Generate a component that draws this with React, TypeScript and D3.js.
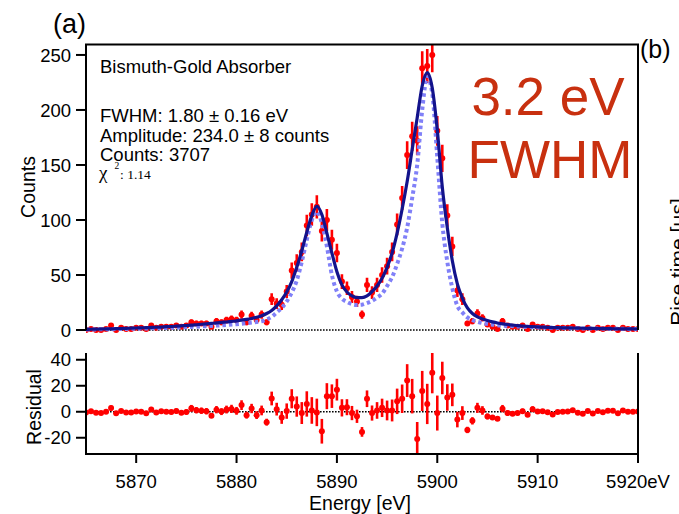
import React from 'react'
import * as d3 from 'd3'

// 0.5 eV bins, 5865 .. 5920 eV
const energy = d3.range(5865, 5920.25, 0.5)

// measured counts per bin
const counts = [
  0, 1, 0, 0, 1, 4, 0, 2, 1, 1,
  2, 2, 1, 4, 2, 3, 3, 3, 4, 3,
  4, 7, 6, 6, 6, 3, 8, 7, 9, 10,
  9, 14, 7, 13, 9, 14, 7, 28, 24, 23,
  35, 54, 61, 71, 95, 105, 112, 90, 100, 82,
  70, 44, 38, 30, 26, 14, 41, 34, 41, 50,
  58, 71, 96, 120, 159, 176, 172, 238, 240, 250,
  181, 156, 104, 76, 36, 28, 6, 8, 15, 11,
  5, 3, 1, 8, 4, 3, 3, 4, 1, 5,
  3, 3, 2, 0, 2, 2, 2, 3, 1, 0,
  2, 0, 2, 1, 2, 2, 0, 2, 1, 1,
  1,
]

// fitted line shape, same bins
const fit = [
  0.6, 0.7, 0.8, 0.9, 1.0, 1.1, 1.2, 1.35, 1.5, 1.65,
  1.8, 2.0, 2.1, 2.3, 2.5, 2.7, 3.0, 3.2, 3.5, 3.8,
  4.1, 4.4, 4.8, 5.2, 5.6, 6.0, 6.4, 6.9, 7.3, 7.8,
  8.3, 8.9, 9.6, 10.5, 11.6, 13.0, 15.0, 17.8, 22.0, 27.5,
  34.5, 44, 57, 72, 89, 104, 112.5, 105, 88, 70,
  53, 41, 34.5, 31, 29.5, 29.5, 31, 35, 40, 47,
  57, 70, 88, 110, 135, 164, 193, 222, 234, 220,
  182, 130, 93, 63, 42, 29, 20, 15, 12, 10,
  8.6, 7.4, 6.4, 5.6, 5.0, 4.5, 4.0, 3.6, 3.3, 3.0,
  2.8, 2.6, 2.4, 2.2, 2.1, 2.0, 1.9, 1.8, 1.7, 1.6,
  1.5, 1.4, 1.35, 1.3, 1.2, 1.15, 1.1, 1.05, 1.0, 0.95,
  0.9,
]

// intrinsic (narrow) line shape, dotted
const modelE = [
  5865, 5866, 5867, 5868, 5869, 5870, 5871, 5872, 5873, 5874,
  5875, 5876, 5877, 5878, 5879, 5880, 5881, 5882, 5882.5, 5883,
  5883.5, 5884, 5884.5, 5885, 5885.5, 5886, 5886.5, 5887, 5887.5, 5888,
  5888.5, 5889, 5889.5, 5890, 5890.5, 5891, 5891.5, 5892, 5892.5, 5893,
  5893.5, 5894, 5894.5, 5895, 5895.5, 5896, 5896.5, 5897, 5897.5, 5898,
  5898.5, 5899, 5899.5, 5900, 5900.5, 5901, 5901.5, 5902, 5902.5, 5903,
  5903.5, 5904, 5904.5, 5905, 5906, 5907, 5908, 5909, 5910, 5911,
  5912, 5913, 5914, 5915, 5916, 5917, 5918, 5919, 5920,
]
const modelV = [
  0.4, 0.55, 0.7, 0.85, 1.0, 1.2, 1.4, 1.6, 1.9, 2.2,
  2.6, 3.0, 3.5, 4.0, 4.6, 5.3, 6.2, 7.3, 8.0, 9.5,
  12, 16, 20, 26, 34, 45, 62, 82, 100, 107.5,
  97, 76, 50, 35, 28.5, 25.5, 23.5, 22.7, 23, 24.5,
  26.5, 29.5, 33, 40, 48, 60, 74, 93, 120, 150,
  200, 230, 215, 157, 97, 62, 38, 22, 16, 11.5,
  9, 7.5, 6.3, 5.5, 4.4, 3.7, 3.2, 2.8, 2.4, 2.1,
  1.9, 1.7, 1.5, 1.4, 1.3, 1.2, 1.1, 1.0, 0.9,
]

const countTicks = [0, 50, 100, 150, 200, 250]
const residTicks = [-20, 0, 20, 40]
const energyTicks = [5870, 5880, 5890, 5900, 5910, 5920]
const infoLines = ['FWHM: 1.80 ± 0.16 eV', 'Amplitude: 234.0 ± 8 counts', 'Counts: 3707']

const font = '"Liberation Sans", Arial, Helvetica, sans-serif'
const serif = '"Liberation Serif", "Times New Roman", serif'
const RED = '#ff0000'
const NAVY = '#13138c'
const LIGHT = '#8080f8'

export default function App() {
  const x = d3.scaleLinear().domain([5865, 5920]).range([86, 638])
  const y = d3.scaleLinear().domain([0, 259.5]).range([330, 44.5])
  const yr = d3.scaleLinear().domain([-32.5, 45.2]).range([454, 353])

  const pts = energy.map((e, i) => ({
    e,
    c: counts[i],
    r: counts[i] - fit[i],
    err: Math.sqrt(counts[i]),
  }))

  const fitPath = d3.line<number>()
    .x((_, i) => x(energy[i]))
    .y(d => y(d))
    .curve(d3.curveMonotoneX)(fit)
  const modelPath = d3.line<number>()
    .x((_, i) => x(modelE[i]))
    .y(d => y(d))
    .curve(d3.curveMonotoneX)(modelV)

  const [x0, x1] = x.range()

  return (
    <svg width={679} height={514} style={{ position: 'absolute', left: 0, top: 0, background: '#fff' }}
      fontFamily={font}>
      <defs>
        <clipPath id="clipTop"><rect x={x0} y={44.5} width={x1 - x0} height={292} /></clipPath>
        <clipPath id="clipRes"><rect x={x0} y={353} width={x1 - x0} height={101} /></clipPath>
      </defs>
      <rect width={679} height={514} fill="#fff" />

      {/* ---- upper panel ---- */}
      <line x1={x0} x2={x1} y1={y(0)} y2={y(0)} stroke="#000" strokeWidth={1.6} strokeDasharray="1.6,1.4" />
      <g clipPath="url(#clipTop)">
        {pts.map((p, i) => (
          <g key={i}>
            <line x1={x(p.e)} x2={x(p.e)} y1={y(p.c - p.err)} y2={y(p.c + p.err)} stroke={RED} strokeWidth={2.6} />
            <circle cx={x(p.e)} cy={y(p.c)} r={3} fill={RED} />
          </g>
        ))}
        <path d={modelPath || ''} fill="none" stroke={LIGHT} strokeWidth={4} strokeDasharray="3.5,3" />
        <path d={fitPath || ''} fill="none" stroke={NAVY} strokeWidth={3.2} />
      </g>
      <path d={`M${x0},${y(0)}V44.5H${x1}V${y(0)}`} fill="none" stroke="#000" strokeWidth={2} />
      {countTicks.map(t => (
        <g key={t}>
          <line x1={x0 - 10} x2={x0} y1={y(t)} y2={y(t)} stroke="#000" strokeWidth={2} />
          <text x={71} y={y(t)} dy="0.36em" textAnchor="end" fontSize={18.5}>{t}</text>
        </g>
      ))}
      <text transform="translate(35,187) rotate(-90)" textAnchor="middle" fontSize={19.5}>Counts</text>

      <text x={100} y={73} fontSize={18.5}>Bismuth-Gold Absorber</text>
      {infoLines.map((s, i) => (
        <text key={s} x={100} y={122 + i * 19.5} fontSize={18.5}>{s}</text>
      ))}
      <text x={99} y={179} fontFamily={serif} fontSize={19}>χ</text>
      <text x={114.5} y={169} fontFamily={serif} fontSize={9.5}>2</text>
      <text x={120} y={178.5} fontFamily={serif} fontSize={13.5}>: 1.14</text>

      <text x={548} y={115} textAnchor="middle" fontSize={53} fill="#c8300f">3.2 eV</text>
      <text x={550} y={178} textAnchor="middle" fontSize={53} fill="#c8300f">FWHM</text>

      <text x={53} y={32.5} fontSize={27}>(a)</text>
      <text x={640} y={58} fontSize={25}>(b)</text>
      {/* axis title of the neighbouring panel, cut by the page edge as in the source */}
      <text transform="translate(685,262) rotate(-90)" textAnchor="middle" fontSize={21}>Rise time [μs]</text>

      {/* ---- residual panel ---- */}
      <line x1={x0} x2={x1} y1={yr(0)} y2={yr(0)} stroke="#000" strokeWidth={1.6} strokeDasharray="1.6,1.4" />
      <g clipPath="url(#clipRes)">
        {pts.map((p, i) => (
          <g key={i}>
            <line x1={x(p.e)} x2={x(p.e)} y1={yr(p.r - p.err)} y2={yr(p.r + p.err)} stroke={RED} strokeWidth={2.6} />
            <circle cx={x(p.e)} cy={yr(p.r)} r={3} fill={RED} />
          </g>
        ))}
      </g>
      <path d={`M${x0},353V454H${x1}V353`} fill="none" stroke="#000" strokeWidth={2} />
      {residTicks.map(t => (
        <g key={t}>
          <line x1={x0 - 10} x2={x0} y1={yr(t)} y2={yr(t)} stroke="#000" strokeWidth={2} />
          <text x={71} y={yr(t)} dy="0.36em" textAnchor="end" fontSize={18.5}>{t}</text>
        </g>
      ))}
      <text transform="translate(41,407) rotate(-90)" textAnchor="middle" fontSize={19.5}>Residual</text>

      {energyTicks.map((t, i) => (
        <g key={t}>
          <line x1={x(t)} x2={x(t)} y1={454} y2={463} stroke="#000" strokeWidth={2} />
          <text x={x(t)} y={488} textAnchor="middle" fontSize={18.5}>
            {i === energyTicks.length - 1 ? `${t}eV` : t}
          </text>
        </g>
      ))}
      <text x={360} y={510} textAnchor="middle" fontSize={19.5}>Energy [eV]</text>
    </svg>
  )
}
